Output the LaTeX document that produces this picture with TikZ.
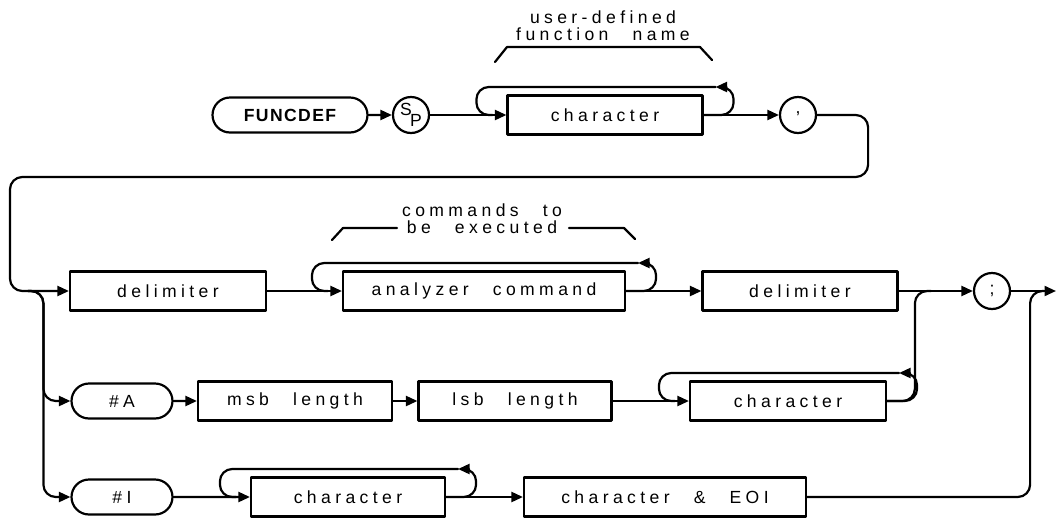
\documentclass[tikz,border=0pt]{standalone}
\usepackage{fontspec}
\newfontfamily\plotfont[LetterSpace=25,WordSpace=2.6]{Liberation Sans}
\newfontfamily\keyfont[LetterSpace=8]{Liberation Sans}
\newcommand\plotsize{\fontsize{10}{9.6}\selectfont}
\usetikzlibrary{arrows.meta,calc,shapes.misc}
\tikzset{
  link/.style={line width=1.25pt},
  flow/.style={link,-{Triangle[length=2.3mm,width=2mm]}},
  box/.style={draw,line width=1.25pt,inner sep=0pt,minimum height=0.78cm},
  term/.style={box,rounded rectangle,minimum height=0.7cm},
  ring/.style={draw,circle,line width=1.25pt,inner sep=0pt,minimum size=0.72cm},
}

\begin{document}
\begin{tikzpicture}[x=0.02cm,y=-0.02cm,line cap=round,line join=round,font=\plotfont\plotsize]
  \useasboundingbox (0,0) rectangle (1056,518);

  % first row: keyword and function name
  \node[term,minimum width=3.1cm,font=\keyfont\plotsize\bfseries] (funcdef) at (290,115) {FUNCDEF};
  \node[ring] (sp) at (411,115) {\raisebox{3pt}{S}\kern-1pt\raisebox{-3pt}{P}};
  \node[box,minimum width=3.9cm] (char1) at (605,115) {character};
  \node[ring] (comma) at (798,115) {\raisebox{3pt}{,}};
  \node[align=center] (fname) at (603,26) {user-defined\\function name};

  % second row: delimited commands
  \node[box,minimum width=3.92cm] (delim1) at (168,291) {delimiter};
  \node[box,minimum width=5.64cm] (anacmd) at (484,291) {analyzer command};
  \node[box,minimum width=3.9cm] (delim2) at (800,291) {delimiter};
  \node[ring] (semi) at (992,291) {;};
  \node[align=center] (cmdnote) at (482,219) {commands to\\be executed};

  % third and fourth rows: block forms
  \node[term,minimum width=2.02cm] (hashA) at (122,401) {\#A};
  \node[box,minimum width=3.88cm] (msb) at (295,401) {msb length};
  \node[box,minimum width=3.86cm] (lsb) at (515,401) {lsb length};
  \node[box,minimum width=3.92cm] (char2) at (788,401) {character};
  \node[term,minimum width=2.02cm] (hashI) at (122,497) {\#I};
  \node[box,minimum width=3.88cm] (char3) at (348,497) {character};
  \node[box,minimum width=5.64cm] (chareoi) at (665,497) {character \& EOI};

  \coordinate (ret) at (10,177);
  \coordinate (fork) at (28,291);
  \coordinate (out) at (1056,291);

  % braces over the repeated items
  \draw[link] (495,62) -- (507,47) -- (700,47) -- (712,60);
  \draw[link] (332,240) -- (343,228) -- (397,228);
  \draw[link] (569,228) -- (624,228) -- (635,239);

  % main flow
  \draw[flow] (funcdef) -- (sp);
  \draw[flow] (sp) -- (char1);
  \draw[flow] (char1) -- (comma);
  \draw[flow,rounded corners=7pt] (comma.east) -- ++(51,0) |- (ret) |- (delim1.west);
  \draw[flow] (delim1) -- (anacmd);
  \draw[flow] (anacmd) -- (delim2);
  \draw[flow] (delim2) -- (semi);
  \draw[flow] (semi) -- (out);
  \draw[flow,rounded corners=7pt] (fork) -| ($(hashA.west)+(-27,0)$) -- (hashA.west);
  \draw[flow,rounded corners=7pt] (fork) -| ($(hashI.west)+(-27,0)$) -- (hashI.west);
  \draw[flow] (hashA) -- (msb);
  \draw[flow] (msb) -- (lsb);
  \draw[flow] (lsb) -- (char2);
  \draw[link,rounded corners=7pt] (char2.east) -| ($(semi.west)+(-58,0)$) -- ++(16,0);
  \draw[flow] (hashI) -- (char3);
  \draw[flow] (char3) -- (chareoi);
  \draw[link,rounded corners=7pt] (chareoi.east) -| ($(semi.east)+(19,0)$) -- ++(14,0);

  % repeat loops
  \foreach \b in {char1,anacmd,char2,char3}{
    \draw[flow,rounded corners=7pt] (\b.east) -| ($(\b.east)+(30,-28)$) -- ++(-18,0);
    \draw[link,rounded corners=7pt] ($(\b.east)+(12,-28)$) -| ($(\b.west)+(-30,0)$) -- ++(16,0);
  }
\end{tikzpicture}
\end{document}
